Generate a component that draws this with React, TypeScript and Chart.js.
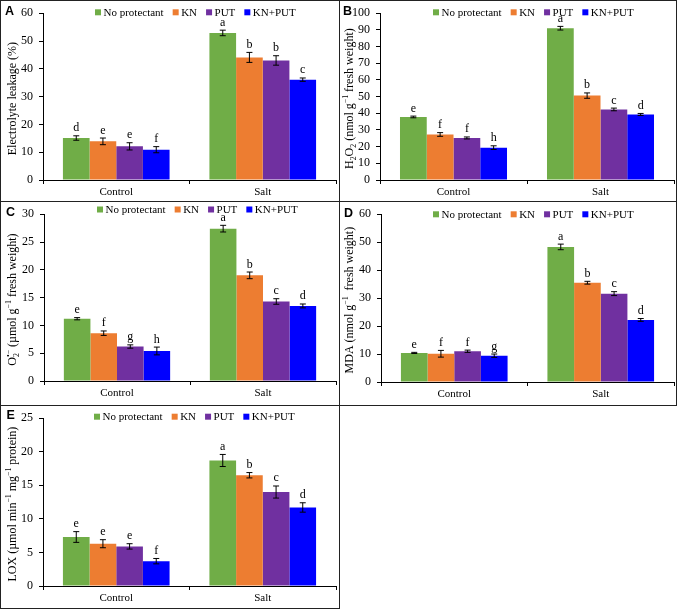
import React, { useEffect, useRef } from 'react';
import { Chart, registerables } from 'chart.js';

Chart.register(...registerables);

const FONT = "'Liberation Serif', 'Times New Roman', serif";
const LABEL_FONT = "'Liberation Sans', Arial, sans-serif";

// ---------- shared data ----------
const categories = ['Control', 'Salt'];
const seriesNames = ['No protectant', 'KN', 'PUT', 'KN+PUT'];
const seriesColors = ['#70AD47', '#ED7D31', '#7030A0', '#0000FF'];

// ---------- Panel A: Electrolyte leakage ----------
const elMeans = [[15.1, 52.9], [13.9, 44.1], [12.1, 43.0], [10.9, 36.1]];
const elErrors = [[0.8, 1.0], [1.2, 1.8], [1.3, 1.7], [1.1, 0.6]];
const elLetters = [['d', 'a'], ['e', 'b'], ['e', 'b'], ['f', 'c']];
const elAxis = [0, 60, 10];

// ---------- Panel B: H2O2 ----------
const h2o2Means = [[37.8, 91.0], [27.3, 50.6], [25.2, 42.3], [19.4, 39.3]];
const h2o2Errors = [[0.5, 1.1], [1.1, 1.6], [0.6, 0.8], [1.1, 0.6]];
const h2o2Letters = [['e', 'a'], ['f', 'b'], ['f', 'c'], ['h', 'd']];
const h2o2Axis = [0, 100, 10];

// ---------- Panel C: O2•− ----------
const o2Means = [[11.2, 27.4], [8.6, 19.0], [6.2, 14.3], [5.4, 13.5]];
const o2Errors = [[0.2, 0.6], [0.4, 0.6], [0.3, 0.5], [0.7, 0.35]];
const o2Letters = [['e', 'a'], ['f', 'b'], ['g', 'c'], ['h', 'd']];
const o2Axis = [0, 30, 5];

// ---------- Panel D: MDA ----------
const mdaMeans = [[10.4, 48.3], [10.1, 35.5], [11.0, 31.6], [9.4, 22.2]];
const mdaErrors = [[0.2, 1.0], [1.2, 0.5], [0.4, 0.7], [0.6, 0.5]];
const mdaLetters = [['e', 'a'], ['f', 'b'], ['f', 'c'], ['g', 'd']];
const mdaAxis = [0, 60, 10];

// ---------- Panel E: LOX ----------
const loxMeans = [[7.3, 18.7], [6.3, 16.5], [5.9, 14.0], [3.7, 11.7]];
const loxErrors = [[0.8, 0.9], [0.6, 0.4], [0.4, 0.9], [0.4, 0.7]];
const loxLetters = [['e', 'a'], ['e', 'b'], ['e', 'c'], ['f', 'd']];
const loxAxis = [0, 25, 5];

type Seg = { t: string; k?: 'sub' | 'sup'; s?: string };

const panels = [
  {
    id: 'A', x: 0, y: 0, w: 340, h: 202,
    area: { left: 43, right: 336, top: 11, bottom: 180 },
    titleX: 12, titleDy: 2, legendX: 95, legendY: 12.3, labelX: 5, labelY: 14.5,
    means: elMeans, errors: elErrors, letters: elLetters, axis: elAxis,
    title: [{ t: 'Electrolyte leakage (%)' }] as Seg[],
  },
  {
    id: 'B', x: 339, y: 0, w: 338, h: 202,
    area: { left: 41, right: 335, top: 11, bottom: 180 },
    titleX: 10, titleDy: 2, legendX: 94, legendY: 12.3, labelX: 4, labelY: 15,
    means: h2o2Means, errors: h2o2Errors, letters: h2o2Letters, axis: h2o2Axis,
    title: [
      { t: 'H' }, { t: '2', k: 'sub' }, { t: 'O' }, { t: '2', k: 'sub' },
      { t: ' (nmol g' }, { t: '−1', k: 'sup' }, { t: ' fresh weight)' },
    ] as Seg[],
  },
  {
    id: 'C', x: 0, y: 201, w: 340, h: 205,
    area: { left: 44, right: 336, top: 11, bottom: 180 },
    titleX: 12, titleDy: 2, legendX: 97, legendY: 8.5, labelX: 6, labelY: 14.7,
    means: o2Means, errors: o2Errors, letters: o2Letters, axis: o2Axis,
    title: [
      { t: 'O' }, { t: '2', k: 'sub', s: '•−' },
      { t: ' (µmol g' }, { t: '−1', k: 'sup' }, { t: ' fresh weight)' },
    ] as Seg[],
  },
  {
    id: 'D', x: 339, y: 201, w: 338, h: 205,
    area: { left: 42, right: 335, top: 12, bottom: 181 },
    titleX: 10, titleDy: 2, legendX: 94, legendY: 13.3, labelX: 5, labelY: 15.7,
    means: mdaMeans, errors: mdaErrors, letters: mdaLetters, axis: mdaAxis,
    title: [{ t: 'MDA (nmol g' }, { t: '−1', k: 'sup' }, { t: '  fresh weight)' }] as Seg[],
  },
  {
    id: 'E', x: 0, y: 405, w: 340, h: 204,
    area: { left: 43, right: 336, top: 11, bottom: 181 },
    titleX: 12.5, titleDy: 2, legendX: 94, legendY: 11.7, labelX: 6.5, labelY: 14.3,
    means: loxMeans, errors: loxErrors, letters: loxLetters, axis: loxAxis,
    title: [
      { t: 'LOX (µmol min' }, { t: '−1', k: 'sup' }, { t: ' mg' }, { t: '−1', k: 'sup' }, { t: ' protein)' },
    ] as Seg[],
  },
];

function drawRich(ctx: CanvasRenderingContext2D, segs: Seg[], cx: number, cy: number, size: number) {
  const small = size * 0.65;
  const widthOf = (seg: Seg) => {
    if (!seg.k) {
      ctx.font = `${size}px ${FONT}`;
      return ctx.measureText(seg.t).width;
    }
    ctx.font = `${small}px ${FONT}`;
    let w = ctx.measureText(seg.t).width;
    if (seg.s) w = Math.max(w, ctx.measureText(seg.s).width);
    return w;
  };
  const total = segs.reduce((a, s) => a + widthOf(s), 0);
  ctx.save();
  ctx.translate(cx, cy);
  ctx.rotate(-Math.PI / 2);
  ctx.textAlign = 'left';
  ctx.textBaseline = 'alphabetic';
  ctx.fillStyle = '#000';
  const base = size * 0.33;
  let x = -total / 2;
  for (const seg of segs) {
    const w = widthOf(seg);
    if (!seg.k) {
      ctx.font = `${size}px ${FONT}`;
      ctx.fillText(seg.t, x, base);
    } else if (seg.k === 'sub') {
      ctx.font = `${small}px ${FONT}`;
      ctx.fillText(seg.t, x, base + size * 0.22);
      if (seg.s) ctx.fillText(seg.s, x, base - size * 0.42);
    } else {
      ctx.font = `${small}px ${FONT}`;
      ctx.fillText(seg.t, x, base - size * 0.42);
    }
    x += w;
  }
  ctx.restore();
}

function Panel({ p }: { p: (typeof panels)[number] }) {
  const ref = useRef<HTMLCanvasElement>(null);
  useEffect(() => {
    if (!ref.current) return;
    const overlay = {
      id: 'overlay' + p.id,
      afterDraw(chart: any) {
        const ctx: CanvasRenderingContext2D = chart.ctx;
        const yScale = chart.scales.y;
        ctx.save();
        // error bars + letters
        chart.data.datasets.forEach((ds: any, di: number) => {
          const meta = chart.getDatasetMeta(di);
          meta.data.forEach((bar: any, i: number) => {
            const v = p.means[di][i];
            const e = p.errors[di][i];
            const yt = yScale.getPixelForValue(v + e);
            const yb = yScale.getPixelForValue(v - e);
            const x = bar.x;
            ctx.strokeStyle = '#000';
            ctx.lineWidth = 1;
            ctx.beginPath();
            ctx.moveTo(x, yt);
            ctx.lineTo(x, yb);
            ctx.moveTo(x - 3, yt);
            ctx.lineTo(x + 3, yt);
            ctx.moveTo(x - 3, yb);
            ctx.lineTo(x + 3, yb);
            ctx.stroke();
            ctx.fillStyle = '#000';
            ctx.font = `12px ${FONT}`;
            ctx.textAlign = 'center';
            ctx.textBaseline = 'alphabetic';
            ctx.fillText(p.letters[di][i], x, yt - 4.5);
          });
        });
        // legend
        ctx.font = `11px ${FONT}`;
        ctx.textBaseline = 'middle';
        ctx.textAlign = 'left';
        let lx = p.legendX;
        seriesNames.forEach((name, i) => {
          ctx.fillStyle = seriesColors[i];
          ctx.fillRect(lx, p.legendY - 3, 6, 6);
          ctx.fillStyle = '#000';
          ctx.fillText(name, lx + 8.5, p.legendY + 0.5);
          lx += 8.5 + ctx.measureText(name).width + 9;
        });
        // axis title
        const cy = (chart.chartArea.top + chart.chartArea.bottom) / 2 + p.titleDy;
        drawRich(ctx, p.title, p.titleX, cy, 12);
        // panel label
        ctx.fillStyle = '#000';
        ctx.font = `bold 12.5px ${LABEL_FONT}`;
        ctx.textAlign = 'left';
        ctx.textBaseline = 'alphabetic';
        ctx.fillText(p.id, p.labelX, p.labelY);
        ctx.restore();
      },
    };
    const chart = new Chart(ref.current, {
      type: 'bar',
      data: {
        labels: categories,
        datasets: seriesNames.map((name, i) => ({
          label: name,
          data: p.means[i],
          backgroundColor: seriesColors[i],
          borderWidth: 0,
          categoryPercentage: 0.728,
          barPercentage: 1,
        })),
      },
      options: {
        responsive: false,
        animation: false,
        devicePixelRatio: 1,
        layout: { padding: { left: 0, top: p.area.top, right: p.w - p.area.right, bottom: 0 } },
        plugins: { legend: { display: false }, tooltip: { enabled: false }, title: { display: false } },
        scales: {
          x: {
            grid: { display: true, drawOnChartArea: false, drawTicks: true, tickLength: 4, color: '#000', offset: true },
            border: { display: true, color: '#000', width: 1 },
            ticks: { color: '#000', font: { family: FONT, size: 11 }, padding: 2 },
            afterFit: (s: any) => { s.height = p.h - p.area.bottom; },
          },
          y: {
            min: p.axis[0],
            max: p.axis[1],
            ticks: {
              stepSize: p.axis[2], autoSkip: false, maxTicksLimit: 20,
              color: '#000', font: { family: FONT, size: 12 }, padding: 6,
            },
            grid: { display: true, drawOnChartArea: false, drawTicks: true, tickLength: 4, color: '#000' },
            border: { display: true, color: '#000', width: 1 },
            afterFit: (s: any) => { s.width = p.area.left; },
          },
        },
      } as any,
      plugins: [overlay],
    });
    return () => chart.destroy();
  }, []);
  return (
    <canvas
      ref={ref}
      width={p.w}
      height={p.h}
      style={{ position: 'absolute', left: p.x, top: p.y, width: p.w, height: p.h }}
    />
  );
}

export default function App() {
  return (
    <div style={{ position: 'absolute', left: 0, top: 0, width: 677, height: 609, background: '#fff' }}>
      {panels.map((p) => (
        <div
          key={'f' + p.id}
          style={{
            position: 'absolute', left: p.x, top: p.y, width: p.w, height: p.h,
            border: '1px solid #222', boxSizing: 'border-box',
          }}
        />
      ))}
      {panels.map((p) => (
        <Panel key={p.id} p={p} />
      ))}
    </div>
  );
}
